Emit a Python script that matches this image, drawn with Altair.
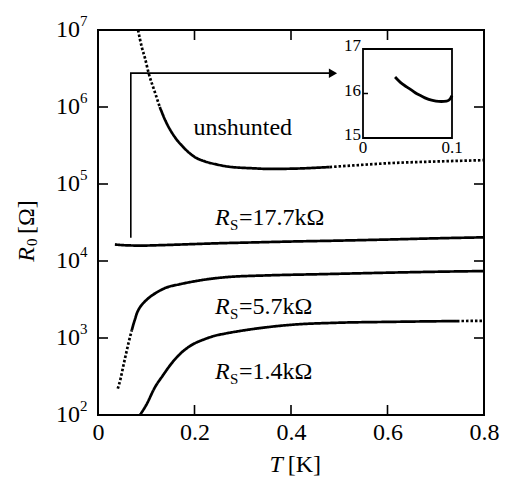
import altair as alt
import pandas as pd

FONT = "Liberation Serif"
W, H = 386, 385

# ---- data ----
# unshunted
un_T = [0.083, 0.091, 0.097, 0.105, 0.118, 0.128, 0.139, 0.160, 0.175, 0.187, 0.200, 0.222, 0.245,
        0.270, 0.320, 0.356, 0.400, 0.480, 0.540, 0.600, 0.700, 0.800]
un_R = [1.0e7, 5.9e6, 4.4e6, 2.75e6, 1.55e6, 1.0e6, 6.8e5, 4.0e5, 3.1e5, 2.6e5, 2.25e5, 1.96e5, 1.8e5,
        1.68e5, 1.60e5, 1.57e5, 1.58e5, 1.66e5, 1.76e5, 1.86e5, 1.96e5, 2.04e5]
# R_S = 17.7 kOhm
s17_T = [0.035, 0.050, 0.070, 0.090, 0.120, 0.200, 0.250, 0.300, 0.400, 0.500, 0.600, 0.700, 0.800]
s17_R = [16400, 16100, 15900, 15850, 16000, 16600, 17000, 17300, 17900, 18400, 19000, 19700, 20300]
# R_S = 5.7 kOhm
s57_T = [0.041, 0.047, 0.052, 0.058, 0.064, 0.070, 0.074, 0.077, 0.080, 0.086, 0.092, 0.100,
         0.110, 0.120, 0.139, 0.170, 0.200, 0.263, 0.350, 0.466, 0.600, 0.700, 0.800]
s57_R = [220, 300, 420, 620, 900, 1260, 1550, 1780, 2050, 2450, 2750, 3100,
         3500, 3850, 4450, 5000, 5450, 6150, 6500, 6750, 7050, 7250, 7400]
# R_S = 1.4 kOhm
s14_T = [0.087, 0.100, 0.118, 0.135, 0.153, 0.170, 0.187, 0.200, 0.222, 0.240, 0.263, 0.300,
         0.350, 0.398, 0.500, 0.605, 0.744, 0.800]
s14_R = [100, 135, 229, 330, 473, 620, 759, 850, 970, 1060, 1140, 1250,
         1380, 1480, 1580, 1620, 1660, 1670]
# inset (R_S = 17.7 kOhm, low T), R in kOhm
in_T = [0.036, 0.042, 0.049, 0.055, 0.060, 0.066, 0.071, 0.077, 0.082, 0.088, 0.094, 0.098, 0.100]
in_R = [16.37, 16.25, 16.15, 16.07, 16.00, 15.94, 15.89, 15.85, 15.83, 15.82, 15.83, 15.88, 15.95]

# style segments (T ranges drawn dotted / solid)
segments = [
    ("un", un_T, un_R, [(0.083, 0.128, "dotted"), (0.128, 0.48, "solid"), (0.48, 0.80, "dotted")]),
    ("s17", s17_T, s17_R, [(0.035, 0.80, "solid")]),
    ("s57", s57_T, s57_R, [(0.041, 0.070, "dotted"), (0.070, 0.80, "solid")]),
    ("s14", s14_T, s14_R, [(0.087, 0.744, "solid"), (0.744, 0.80, "dotted")]),
]

# axis labels
x_tick_vals = [0, 0.2, 0.4, 0.6, 0.8]
x_inner_ticks = [0.2, 0.4, 0.6]
y_exps = [2, 3, 4, 5, 6, 7]
y_inner_ticks = [1e3, 1e4, 1e5, 1e6]

# annotations
rs_text = ["=17.7kΩ", "=5.7kΩ", "=1.4kΩ"]
rs_T = [0.2425, 0.2425, 0.2425]
rs_R = [36300, 2510, 360]
un_label = "unshunted"
un_label_T, un_label_R = 0.30, 5.33e5
arrow_T = [0.068, 0.068, 0.490]
arrow_R = [2.0e4, 2.75e6, 2.75e6]
arrow_head_T, arrow_head_R = 0.487, 2.75e6

inset_yticks = [15, 16, 17]
inset_xticks = [0, 0.1]

# ---- tables ----
rows = []
for name, Ts, Rs, cuts in segments:
    for i, (lo, hi, style) in enumerate(cuts):
        for t, r in zip(Ts, Rs):
            if lo - 1e-9 <= t <= hi + 1e-9:
                rows.append({"T": t, "R": r, "seg": f"{name}{i}", "style": style})
curves = pd.DataFrame(rows)

xscale = alt.Scale(domain=[0, 0.8], nice=False, zero=False)
yscale = alt.Scale(type="log", domain=[100, 1e7], nice=False)
xaxis = alt.Axis(values=x_tick_vals, grid=False, domain=False, ticks=False, tickSize=0,
                 labelExpr="datum.value == 0 ? '0' : format(datum.value, '.1f')",
                 labelFont=FONT, labelFontSize=24, labelColor="black", labelPadding=17,
                 labelBaseline="middle", labelFlush=False, title=None)

def X(f="T"):
    return alt.X(f"{f}:Q", scale=xscale, axis=xaxis)

def Y(f="R"):
    return alt.Y(f"{f}:Q", scale=yscale, axis=None)

lines = alt.Chart(curves).mark_line(color="black", strokeWidth=2.7, interpolate="monotone").encode(
    x=X(), y=Y(), detail="seg:N",
    strokeDash=alt.StrokeDash("style:N", scale=alt.Scale(domain=["solid", "dotted"],
                                                          range=[[1, 0], [2.5, 2]]), legend=None),
)

arrow = alt.Chart(pd.DataFrame({"T": arrow_T, "R": arrow_R, "o": [0, 1, 2]})).mark_line(
    color="black", strokeWidth=1.6).encode(x=X(), y=Y(), order="o:Q")
head = alt.Chart(pd.DataFrame({"T": [arrow_head_T], "R": [arrow_head_R]})).mark_point(
    shape="triangle-right", filled=True, color="black", size=90, opacity=1).encode(x=X(), y=Y())

ydf = pd.DataFrame({"R": [10.0 ** e for e in y_exps], "sup": [str(e) for e in y_exps]})
ylab_base = alt.Chart(ydf).mark_text(font=FONT, fontSize=24, align="right", baseline="middle",
                                     color="black").encode(x=alt.value(-18), y=Y(), text=alt.value("10"))
ylab_sup = alt.Chart(ydf).mark_text(font=FONT, fontSize=15, align="left", baseline="middle",
                                    color="black", dy=-9).encode(x=alt.value(-18), y=Y(), text="sup:N")

ytk = pd.DataFrame({"R": y_inner_ticks})
xtk = pd.DataFrame({"T": x_inner_ticks})
tick_l = alt.Chart(ytk).mark_rule(color="black", strokeWidth=1.6).encode(y=Y(), x=alt.value(0), x2=alt.value(10))
tick_r = alt.Chart(ytk).mark_rule(color="black", strokeWidth=1.6).encode(y=Y(), x=alt.value(W - 10), x2=alt.value(W))
tick_b = alt.Chart(xtk).mark_rule(color="black", strokeWidth=1.6).encode(x=X(), y=alt.value(H - 10), y2=alt.value(H))
tick_t = alt.Chart(xtk).mark_rule(color="black", strokeWidth=1.6).encode(x=X(), y=alt.value(0), y2=alt.value(10))

unl = alt.Chart(pd.DataFrame({"T": [un_label_T], "R": [un_label_R], "t": [un_label]})).mark_text(
    font=FONT, fontSize=24, align="center", baseline="middle", color="black").encode(x=X(), y=Y(), text="t:N")

rsdf = pd.DataFrame({"T": rs_T, "R": rs_R, "t": rs_text})
rs_R_mark = alt.Chart(rsdf).mark_text(font=FONT, fontSize=24, fontStyle="italic", align="left",
                                      baseline="middle", color="black").encode(x=X(), y=Y(), text=alt.value("R"))
rs_S_mark = alt.Chart(rsdf).mark_text(font=FONT, fontSize=15, align="left", baseline="middle",
                                      color="black", dx=15, dy=7).encode(x=X(), y=Y(), text=alt.value("S"))
rs_rest = alt.Chart(rsdf).mark_text(font=FONT, fontSize=24, align="left", baseline="middle",
                                    color="black", dx=24).encode(x=X(), y=Y(), text="t:N")

# axis titles
tdf = pd.DataFrame({"T": [0.383]})
xt_T = alt.Chart(tdf).mark_text(font=FONT, fontSize=24, fontStyle="italic", align="right",
                                baseline="middle", color="black").encode(x=X(), y=alt.value(H + 50), text=alt.value("T"))
xt_K = alt.Chart(tdf).mark_text(font=FONT, fontSize=24, align="left", baseline="middle",
                                color="black", dx=5).encode(x=X(), y=alt.value(H + 50), text=alt.value("[K]"))
ydummy = pd.DataFrame({"a": [0]})
yt_R = alt.Chart(ydummy).mark_text(font=FONT, fontSize=24, fontStyle="italic", align="right", angle=270,
                                   baseline="middle", color="black").encode(x=alt.value(-71), y=alt.value(217), text=alt.value("R"))
yt_0 = alt.Chart(ydummy).mark_text(font=FONT, fontSize=15, align="left", angle=270, dx=1, dy=5,
                                   baseline="middle", color="black").encode(x=alt.value(-71), y=alt.value(217), text=alt.value("0"))
yt_O = alt.Chart(ydummy).mark_text(font=FONT, fontSize=24, align="left", angle=270, dx=13,
                                   baseline="middle", color="black").encode(x=alt.value(-71), y=alt.value(217), text=alt.value("[Ω]"))

main = alt.layer(lines, arrow, head, tick_l, tick_r, tick_b, tick_t, ylab_base, ylab_sup,
                 unl, rs_R_mark, rs_S_mark, rs_rest, xt_T, xt_K, yt_R, yt_0, yt_O)

# ---- inset ----
ixs = alt.Scale(domain=[0, 0.1], range=[265, 354], nice=False, zero=False)
iys = alt.Scale(domain=[15, 17], range=[108, 19], nice=False, zero=False)

def IX(f="T"):
    return alt.X(f"{f}:Q", scale=ixs, axis=None)

def IY(f="R"):
    return alt.Y(f"{f}:Q", scale=iys, axis=None)

inset_line = alt.Chart(pd.DataFrame({"T": in_T, "R": in_R})).mark_line(
    color="black", strokeWidth=2.8, interpolate="monotone").encode(x=IX(), y=IY())
inset_box = alt.Chart(pd.DataFrame({"x0": [inset_xticks[0]], "x1": [inset_xticks[-1]],
                                    "y0": [inset_yticks[0]], "y1": [inset_yticks[-1]]})).mark_rect(
    fill=None, stroke="black", strokeWidth=1.8).encode(x=IX("x0"), x2="x1:Q", y=IY("y0"), y2="y1:Q")
iy_df = pd.DataFrame({"R": inset_yticks, "t": [str(v) for v in inset_yticks], "T": [0] * 3})
inset_ylab = alt.Chart(iy_df).mark_text(font=FONT, fontSize=17, align="right", baseline="middle",
                                        color="black", dx=-2, dy=-3).encode(x=IX(), y=IY(), text="t:N")
ix_df = pd.DataFrame({"T": inset_xticks, "t": ["0", "0.1"], "R": [15, 15]})
inset_xlab = alt.Chart(ix_df).mark_text(font=FONT, fontSize=17, align="center", baseline="middle",
                                        color="black", dy=10).encode(x=IX(), y=IY(), text="t:N")
inset_tick = alt.Chart(pd.DataFrame({"R": [16]})).mark_rule(color="black", strokeWidth=1.5).encode(
    y=IY(), x=alt.value(265), x2=alt.value(270))

inset = alt.layer(inset_box, inset_line, inset_ylab, inset_xlab, inset_tick)

chart = alt.layer(main, inset).resolve_scale(x="independent", y="independent").properties(
    width=W, height=H,
    autosize=alt.AutoSizeParams(type="none"),
    padding={"left": 90, "top": 22, "right": 17, "bottom": 64},
    background="white",
).configure_view(stroke="black", strokeWidth=2)

chart.save("out.html", embed_options={"renderer": "svg", "actions": False})
